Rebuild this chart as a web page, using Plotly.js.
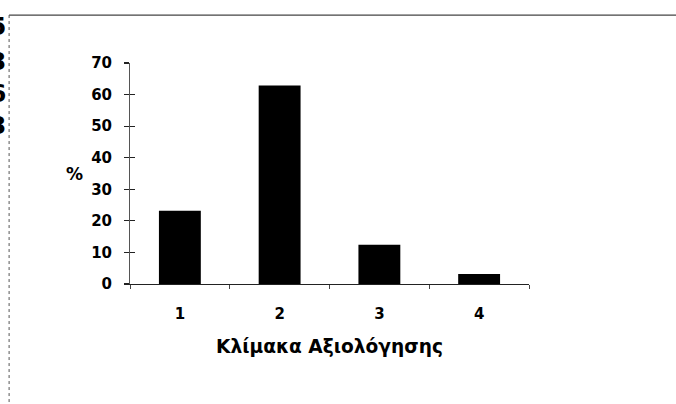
<!DOCTYPE html>
<html>
<head>
<meta charset="utf-8">
<script src="https://cdn.plot.ly/plotly-3.0.1.min.js"></script>
<style>
html,body{margin:0;padding:0;background:#fff;}
#chart{width:676px;height:404px;}
</style>
</head>
<body>
<div id="chart"></div>
<script>
// Data
const categories = ["1", "2", "3", "4"];
const percentValues = [23.2, 62.9, 12.4, 3.2];
const yTickValues = [0, 10, 20, 30, 40, 50, 60, 70];
const xAxisTitle = "Κλίμακα Αξιολόγησης";
const yAxisLabel = "%";
const edgeFragments = ["5", "3", "6", "3"]; // cut-off text at the left edge of the scan

const FONT = "DejaVu Sans, Arial, sans-serif";

const trace = {
  type: "bar",
  x: categories,
  y: percentValues,
  width: 0.42,
  marker: {color: "#000000", line: {width: 0}},
  hoverinfo: "x+y"
};

// invisible trace so the overlaid axis (inside half of the cross ticks) is drawn
const ghost = {
  type: "scatter",
  x: [categories[0]],
  y: [0],
  yaxis: "y2",
  mode: "markers",
  marker: {opacity: 0},
  showlegend: false,
  hoverinfo: "skip"
};

const fragYs = [1.163, 1.009, 0.864, 0.715];
const annotations = edgeFragments.map((t, i) => ({
  text: t, xref: "paper", yref: "paper", x: -0.305, y: fragYs[i],
  xanchor: "right", yanchor: "middle", showarrow: false,
  font: {family: FONT, size: 25, color: "#000", weight: "bold"}
}));
annotations.push({
  text: yAxisLabel, xref: "paper", yref: "paper", x: -0.14, y: 0.5,
  xanchor: "center", yanchor: "middle", showarrow: false,
  font: {family: FONT, size: 17, color: "#000", weight: "bold"}
});

const layout = {
  width: 676, height: 404,
  margin: {l: 130, r: 147, t: 63, b: 120, pad: 0},
  paper_bgcolor: "#ffffff",
  plot_bgcolor: "#ffffff",
  showlegend: false,
  font: {family: FONT, color: "#000"},
  xaxis: {
    type: "category",
    range: [-0.5, 3.5],
    showgrid: false, zeroline: false,
    showline: true, linecolor: "#222", linewidth: 1.2,
    ticks: "outside", tickson: "boundaries", ticklen: 4, tickcolor: "#444", tickwidth: 1,
    ticklabelstandoff: 16,
    tickfont: {family: FONT, size: 15, color: "#000", weight: "bold"},
    title: {text: xAxisTitle, standoff: 17, font: {family: FONT, size: 18.6, color: "#000", weight: "bold"}},
    automargin: false, fixedrange: true
  },
  yaxis: {
    range: [0, 70],
    tickvals: yTickValues,
    showgrid: false, zeroline: false,
    showline: true, linecolor: "#555", linewidth: 1,
    ticks: "outside", ticklen: 5, tickcolor: "#222", tickwidth: 1.2,
    ticklabelstandoff: 9,
    tickfont: {family: FONT, size: 15, color: "#000", weight: "bold"},
    automargin: false, fixedrange: true
  },
  yaxis2: {
    overlaying: "y", side: "left",
    range: [0, 70],
    tickvals: yTickValues,
    showgrid: false, zeroline: false, showline: false,
    ticks: "inside", ticklen: 5, tickcolor: "#222", tickwidth: 1.2,
    showticklabels: false, fixedrange: true
  },
  shapes: [
    {type: "line", xref: "paper", yref: "paper", x0: -0.303, x1: 1.4, y0: 1.217, y1: 1.217,
     line: {color: "#444", width: 1.2}},
    {type: "line", xref: "paper", yref: "paper", x0: -0.303, x1: -0.303, y0: 1.217, y1: -0.6,
     line: {color: "#555", width: 1, dash: "dot"}}
  ],
  annotations: annotations
};

Plotly.newPlot("chart", [trace, ghost], layout, {displayModeBar: false, staticPlot: true});
</script>
</body>
</html>
